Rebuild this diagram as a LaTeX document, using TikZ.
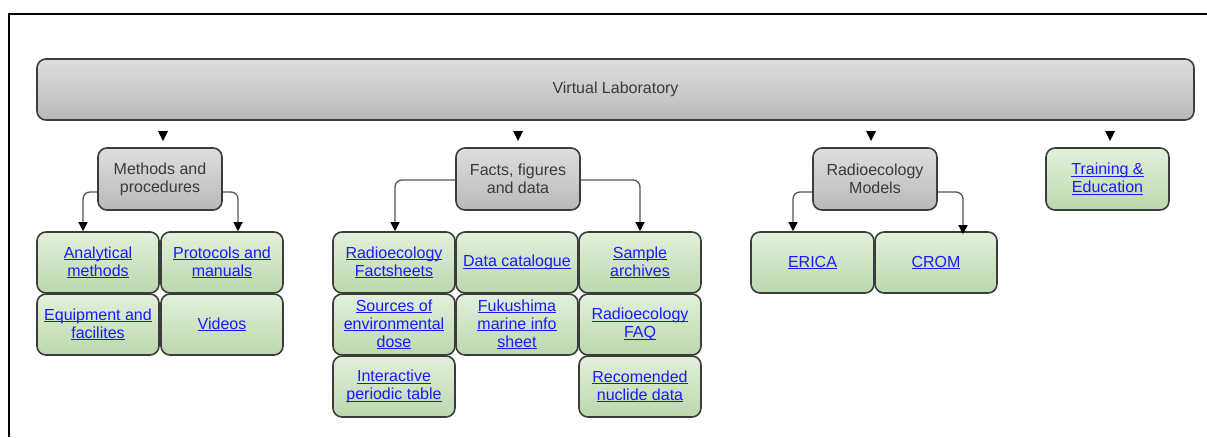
\documentclass[tikz,border=0pt]{standalone}
\usepackage{fontspec}
\setmainfont{Liberation Sans}
\usetikzlibrary{arrows.meta}
\definecolor{boxline}{HTML}{3C3C3C}
\definecolor{grayTop}{HTML}{DEDEDE}
\definecolor{grayBot}{HTML}{B9B9B9}
\definecolor{greenTop}{HTML}{E3F0DC}
\definecolor{greenBot}{HTML}{BBD8AD}
\definecolor{txtgray}{HTML}{3A3A3A}
\definecolor{linkblue}{HTML}{1A1AFF}
\definecolor{connc}{HTML}{555555}
\newcommand\lk[1]{\setbox0=\hbox{#1}\rlap{\rule[-2pt]{\wd0}{0.9pt}}\box0}
\tikzset{
  basebox/.style={rectangle, rounded corners=9pt, draw=boxline, line width=1.6pt,
    align=center, inner sep=2pt, font=\fontsize{16}{18}\selectfont},
  graybox/.style={basebox, top color=grayTop, bottom color=grayBot, text=txtgray,
    minimum width=124pt, minimum height=62pt},
  mainbox/.style={basebox, top color=grayTop, bottom color=grayBot, text=txtgray,
    minimum width=1157pt, minimum height=61pt},
  greenbox/.style={basebox, top color=greenTop, bottom color=greenBot, text=linkblue,
    minimum width=122pt, minimum height=61pt},
  conn/.style={draw=connc, line width=1.3pt, rounded corners=7pt,
    -{Triangle[width=9pt,length=9pt,fill=black,color=black]}},
  freetip/.style={fill=black}
}
\begin{document}
\begin{tikzpicture}[x=1pt,y=-1pt]
\useasboundingbox (0,0) rectangle (1207,437);
% frame
\draw[line width=2pt, black] (9,437) -- (9,14) -- (1207,14);
% main
\node[mainbox] (vl) at (615.5,89.5) {Virtual Laboratory};
% free arrowheads
\foreach \xx in {163,518,871,1110}{
  \fill[freetip] (\xx-5,131) -- (\xx+5,131) -- (\xx,141) -- cycle;
}
% level 2
\node[graybox] (methods) at (160,179) {Methods and\\procedures};
\node[graybox] (facts) at (518,179) {Facts, figures\\and data};
\node[graybox] (models) at (875,179) {Radioecology\\Models};
\node[greenbox, minimum width=123pt, minimum height=62pt] (training) at (1107.5,179) {\lk{Training \&}\\\lk{Education}};
% methods children
\node[greenbox] (analytical) at (98,262.5) {\lk{Analytical}\\\lk{methods}};
\node[greenbox] (protocols) at (222,262.5) {\lk{Protocols and}\\\lk{manuals}};
\node[greenbox] (equipment) at (98,324.5) {\lk{Equipment and}\\\lk{facilites}};
\node[greenbox] (videos) at (222,324.5) {\lk{Videos}};
% facts children
\node[greenbox] (factsheets) at (394,262.5) {\lk{Radioecology}\\\lk{Factsheets}};
\node[greenbox] (datacat) at (517,262.5) {\lk{Data catalogue}};
\node[greenbox] (sample) at (640,262.5) {\lk{Sample}\\\lk{archives}};
\node[greenbox] (sources) at (394,324.5) {\lk{Sources of}\\\lk{environmental}\\\lk{dose}};
\node[greenbox] (fukushima) at (517,324.5) {\lk{Fukushima}\\\lk{marine info}\\\lk{sheet}};
\node[greenbox] (faq) at (640,324.5) {\lk{Radioecology}\\\lk{FAQ}};
\node[greenbox] (periodic) at (394,386.5) {\lk{Interactive}\\\lk{periodic table}};
\node[greenbox] (nuclide) at (640,386.5) {\lk{Recomended}\\\lk{nuclide data}};
% models children
\node[greenbox, minimum width=123pt] (erica) at (812.5,262.5) {\lk{ERICA}};
\node[greenbox] (crom) at (936,262.5) {\lk{CROM}};
% connectors
\draw[conn] ([yshift=-13pt]methods.west) -| ([xshift=-15pt]analytical.north);
\draw[conn] ([yshift=-13pt]methods.east) -| ([xshift=16pt]protocols.north);
\draw[conn] ([yshift=-1pt]facts.west) -| ([xshift=1pt]factsheets.north);
\draw[conn] ([yshift=-1pt]facts.east) -| (sample.north);
\draw[conn] ([yshift=-13pt]models.west) -| ([xshift=-19.5pt]erica.north);
\draw[conn] ([yshift=-13pt]models.east) -| ([xshift=27pt,yshift=-3pt]crom.north);
\end{tikzpicture}
\end{document}
